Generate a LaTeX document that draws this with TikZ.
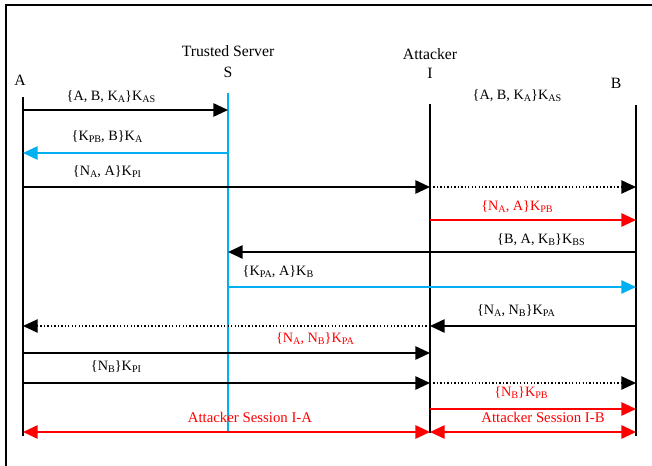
\documentclass[tikz,border=0pt]{standalone}
\usepackage{fontspec}
\setmainfont{Liberation Serif}
\usepackage{xcolor}
\usetikzlibrary{arrows.meta}
\definecolor{srvblue}{RGB}{0,176,240}
\definecolor{atkred}{RGB}{255,0,0}
\newcommand{\sbs}[1]{\raisebox{-0.25ex}{\fontsize{7.6}{8}\selectfont #1}}

\begin{document}
\begin{tikzpicture}[x=0.75pt,y=-0.75pt,
  life/.style={line width=1.5pt},
  msg/.style={line width=1.3pt,-{Triangle[length=11pt,width=10pt]}},
  fwd/.style={line width=1pt,dash pattern=on 1pt off 1.6pt,-{Triangle[length=11pt,width=10pt]}},
  twoway/.style={line width=1.3pt,{Triangle[length=11pt,width=10pt]}-{Triangle[length=11pt,width=10pt]}},
  lbl/.style={inner sep=0pt,font=\fontsize{10.7}{12}\selectfont},
  head/.style={inner sep=0pt,font=\fontsize{11.8}{13}\selectfont}]

 \useasboundingbox (0,0) rectangle (652,466);
 \draw[line width=1.5pt] (6,466) -- (6,5) -- (652,5);

 % lifelines
 \coordinate (A) at (23,97);   \coordinate (A end) at (23,436);
 \coordinate (S) at (228,93);  \coordinate (S end) at (228,433);
 \coordinate (I) at (430,104); \coordinate (I end) at (430,433);
 \coordinate (B) at (636,105); \coordinate (B end) at (636,436);
 \draw[life] (A) -- (A end);
 \draw[life,srvblue] (S) -- (S end);
 \draw[life] (I) -- (I end);
 \draw[life] (B) -- (B end);

 \node[head] (nameA) at (20,80) {A};
 \node[head] (nameS1) at (228,51) {Trusted Server};
 \node[head] (nameS2) at (228,72) {S};
 \node[head] (nameI1) at (430,54) {Attacker};
 \node[head] (nameI2) at (430,73) {I};
 \node[head] (nameB) at (616,83) {B};

 % messages
 \draw[msg] (A |- 0,110) -- (S |- 0,110);
 \node[lbl] (m1) at (111,97) {\{A, B, K\sbs{A}\}K\sbs{AS}};
 \node[lbl] (m1b) at (517,96) {\{A, B, K\sbs{A}\}K\sbs{AS}};

 \draw[msg,srvblue] (S |- 0,153) -- (A |- 0,153);
 \node[lbl] (m2) at (107,137) {\{K\sbs{PB}, B\}K\sbs{A}};

 \draw[msg] (A |- 0,187) -- (I |- 0,187);
 \draw[fwd] (I |- 0,187) -- (B |- 0,187);
 \node[lbl] (m3) at (107,172) {\{N\sbs{A}, A\}K\sbs{PI}};

 \draw[msg,atkred] (I |- 0,220) -- (B |- 0,220);
 \node[lbl,atkred] (m4) at (517,207) {\{N\sbs{A}, A\}K\sbs{PB}};

 \draw[msg] (B |- 0,252) -- (S |- 0,252);
 \node[lbl] (m5) at (541,240) {\{B, A, K\sbs{B}\}K\sbs{BS}};

 \draw[msg,srvblue] (S |- 0,287) -- (B |- 0,287);
 \node[lbl] (m6) at (278,272) {\{K\sbs{PA}, A\}K\sbs{B}};

 \draw[msg] (B |- 0,326) -- (I |- 0,326);
 \draw[fwd] (I |- 0,326) -- (A |- 0,326);
 \node[lbl] (m7) at (516,311) {\{N\sbs{A}, N\sbs{B}\}K\sbs{PA}};

 \draw[msg] (A |- 0,353) -- (I |- 0,353);
 \node[lbl,atkred] (m8) at (315,339) {\{N\sbs{A}, N\sbs{B}\}K\sbs{PA}};

 \draw[msg] (A |- 0,383) -- (I |- 0,383);
 \draw[fwd] (I |- 0,383) -- (B |- 0,383);
 \node[lbl] (m9) at (116,367) {\{N\sbs{B}\}K\sbs{PI}};

 \draw[msg,atkred] (I |- 0,409) -- (B |- 0,409);
 \node[lbl,atkred] (m10) at (521,393) {\{N\sbs{B}\}K\sbs{PB}};

 % sessions
 \draw[twoway,atkred] (A |- 0,432) -- (I |- 0,432);
 \draw[twoway,atkred] (I |- 0,432) -- (B |- 0,432);
 \node[lbl,atkred,font=\fontsize{11.1}{13}\selectfont] (sessA) at (250,417) {Attacker Session I-A};
 \node[lbl,atkred,font=\fontsize{11.1}{13}\selectfont] (sessB) at (543,417) {Attacker Session I-B};
\end{tikzpicture}
\end{document}
